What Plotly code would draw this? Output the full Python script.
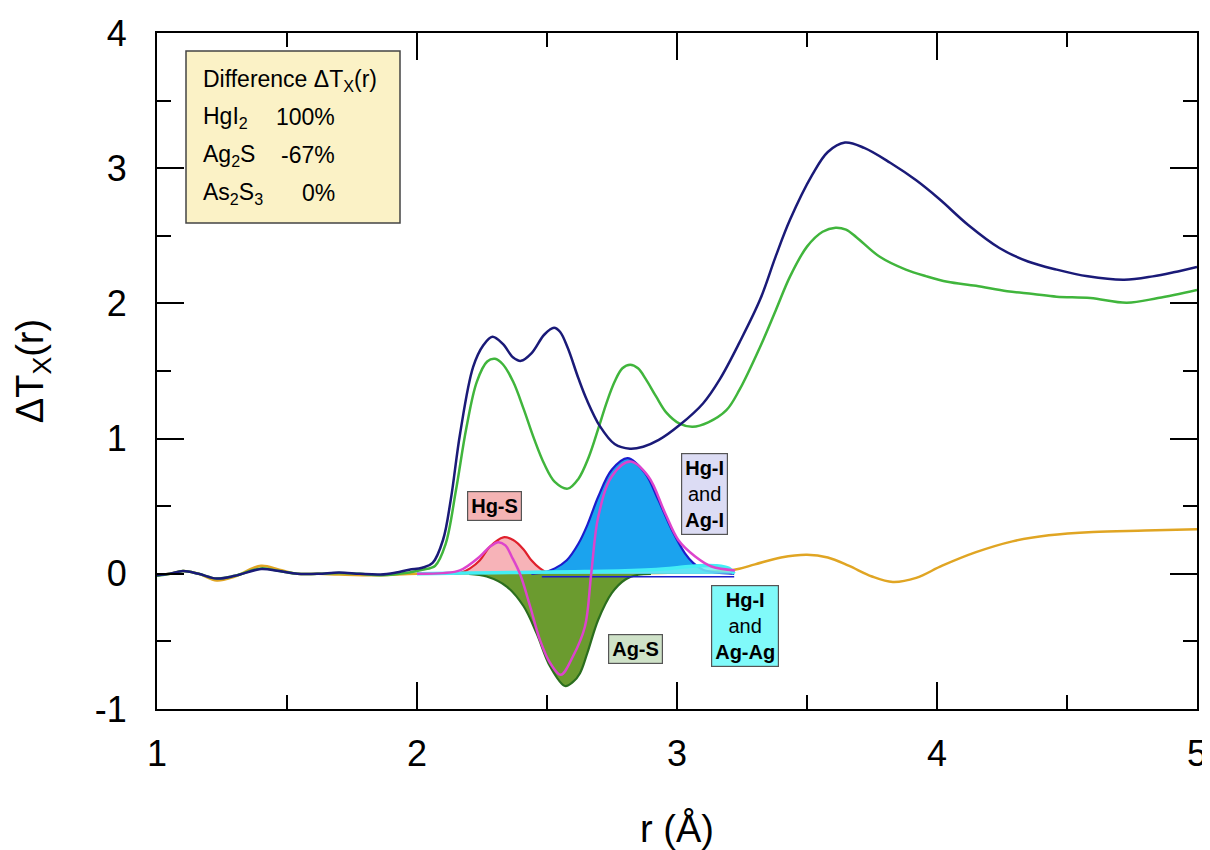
import plotly.graph_objects as go

# ---------------- data ----------------
r_navy = [1.00, 1.05, 1.10, 1.16, 1.23, 1.30, 1.40, 1.47, 1.54, 1.62, 1.70, 1.78, 1.86, 1.92, 1.97,
          2.02, 2.06, 2.10, 2.13, 2.166, 2.216, 2.255, 2.29, 2.33, 2.37, 2.40, 2.44, 2.49, 2.527,
          2.55, 2.58, 2.62, 2.653, 2.704, 2.76, 2.819, 2.87, 2.93, 3.01, 3.10, 3.165, 3.24, 3.32,
          3.38, 3.435, 3.52, 3.58, 3.646, 3.72, 3.82, 3.92, 4.01, 4.12, 4.24, 4.35, 4.46, 4.58,
          4.72, 4.83, 4.91, 5.00]
y_navy = [-0.01, 0.0, 0.02, 0.0, -0.035, -0.015, 0.035, 0.02, 0.0, 0.0, 0.01, 0.0, -0.005, 0.01, 0.03,
          0.045, 0.08, 0.25, 0.55, 1.04, 1.53, 1.69, 1.753, 1.70, 1.60, 1.575, 1.63, 1.77, 1.82,
          1.79, 1.67, 1.45, 1.287, 1.09, 0.96, 0.925, 0.94, 0.99, 1.10, 1.26, 1.44, 1.71, 2.03,
          2.35, 2.62, 2.95, 3.12, 3.19, 3.15, 3.04, 2.91, 2.77, 2.58, 2.41, 2.31, 2.25, 2.20,
          2.175, 2.20, 2.23, 2.27]

r_green = [1.00, 1.05, 1.10, 1.16, 1.23, 1.30, 1.40, 1.47, 1.54, 1.62, 1.70, 1.78, 1.86, 1.97,
           2.02, 2.07, 2.11, 2.15, 2.19, 2.23, 2.27, 2.30, 2.33, 2.37, 2.41, 2.45, 2.49, 2.53, 2.58,
           2.62, 2.66, 2.70, 2.73, 2.76, 2.79, 2.82, 2.85, 2.88, 2.92, 2.96, 3.01, 3.06, 3.12, 3.19,
           3.24, 3.32, 3.38, 3.435, 3.50, 3.56, 3.61, 3.65, 3.69, 3.78, 3.88, 3.96, 4.04, 4.15,
           4.27, 4.37, 4.46, 4.59, 4.73, 4.85, 5.00]
y_green = [-0.015, 0.0, 0.02, 0.0, -0.035, -0.015, 0.04, 0.02, 0.0, 0.0, 0.005, 0.0, -0.01, 0.01,
           0.03, 0.06, 0.22, 0.62, 1.08, 1.42, 1.57, 1.59, 1.55, 1.42, 1.22, 1.00, 0.81, 0.68, 0.63,
           0.70, 0.86, 1.09, 1.27, 1.42, 1.52, 1.546, 1.52, 1.44, 1.31, 1.19, 1.11, 1.087, 1.12, 1.21,
           1.36, 1.68, 1.95, 2.20, 2.42, 2.53, 2.56, 2.545, 2.49, 2.345, 2.25, 2.20, 2.16, 2.13,
           2.09, 2.07, 2.05, 2.04, 2.005, 2.04, 2.10]

r_orange = [1.00, 1.05, 1.10, 1.16, 1.23, 1.30, 1.40, 1.47, 1.54, 1.62, 1.70, 1.86, 2.00, 2.50,
            3.00, 3.22, 3.30, 3.40, 3.50, 3.58, 3.66, 3.75, 3.83, 3.92, 4.02, 4.15, 4.29, 4.43,
            4.60, 4.80, 5.00]
y_orange = [-0.01, 0.0, 0.02, 0.0, -0.05, -0.02, 0.06, 0.03, 0.0, 0.0, -0.005, -0.01, 0.0, 0.0,
            0.01, 0.03, 0.07, 0.12, 0.14, 0.12, 0.06, -0.02, -0.06, -0.03, 0.06, 0.16, 0.24, 0.285,
            0.31, 0.32, 0.33]

r_hgs = [2.10, 2.165, 2.204, 2.242, 2.28, 2.332, 2.37, 2.41, 2.44, 2.473, 2.50, 2.55]
y_hgs = [0.0, 0.005, 0.04, 0.10, 0.20, 0.27, 0.25, 0.18, 0.10, 0.04, 0.01, 0.0]

r_ags = [2.20, 2.268, 2.345, 2.41, 2.46, 2.512, 2.569, 2.60, 2.627, 2.655, 2.697, 2.749, 2.80,
         2.851, 2.90]
y_ags = [0.0, -0.02, -0.094, -0.24, -0.44, -0.686, -0.83, -0.80, -0.735, -0.587, -0.34, -0.143,
         -0.044, -0.007, 0.0]

r_hgi = [2.44, 2.486, 2.53, 2.576, 2.62, 2.655, 2.697, 2.749, 2.81, 2.877, 2.928, 2.98, 3.03,
         3.063, 3.10, 3.15, 3.22]
y_hgi = [0.0, 0.01, 0.04, 0.10, 0.22, 0.36, 0.57, 0.77, 0.856, 0.745, 0.547, 0.325, 0.153,
         0.079, 0.03, 0.01, 0.0]

r_agag = [2.00, 2.20, 2.40, 2.60, 2.80, 2.90, 3.00, 3.08, 3.15, 3.20, 3.22]
y_agag = [0.0, 0.005, 0.01, 0.015, 0.022, 0.03, 0.045, 0.06, 0.06, 0.04, 0.0]

r_sum = [2.00, 2.10, 2.165, 2.242, 2.28, 2.313, 2.34, 2.364, 2.396, 2.435, 2.473, 2.512, 2.553,
         2.60, 2.646, 2.67, 2.697, 2.749, 2.82, 2.89, 2.954, 3.005, 3.07, 3.133, 3.223]
y_sum = [0.0, 0.005, 0.025, 0.128, 0.20, 0.234, 0.21, 0.128, 0.0, -0.24, -0.49, -0.66, -0.747,
         -0.61, -0.39, 0.0, 0.42, 0.72, 0.83, 0.72, 0.45, 0.25, 0.128, 0.054, 0.025]

x_ticks = [1, 2, 3, 4, 5]
y_ticks = [-1, 0, 1, 2, 3, 4]

legend_lines = ["Difference \u0394T<sub>X</sub>(r)", "HgI<sub>2</sub>", "Ag<sub>2</sub>S",
                "As<sub>2</sub>S<sub>3</sub>"]
legend_values = ["", "100%", "-67%", "0%"]

# ---------------- figure ----------------
# the page body has an 8 px margin, so the figure is sized/offset to put the
# plot area at page pixels x 157..1197, y 33..709
OFF = 8
PL, PR, PT, PB = 157, 1197, 33, 709          # plot area in page pixels
W, H = 1210 - OFF, 850 - OFF
L, T = PL - OFF, PT - OFF
R, B = W + OFF - PR, H + OFF - PB
X0, X1, Y0, Y1 = 1.0, 5.0, -1.0, 4.0


def px2x(px):
    return X0 + (px - PL) / (PR - PL) * (X1 - X0)


def py2y(py):
    return Y1 - (py - PT) / (PB - PT) * (Y1 - Y0)


FONT = "Arial, Liberation Sans, sans-serif"
fig = go.Figure()

# residual curve underneath
fig.add_trace(go.Scatter(x=r_orange, y=y_orange, mode="lines",
                         line=dict(color="#e0a523", width=2.5, shape="spline"), name="residual"))
# component fills
fig.add_trace(go.Scatter(x=r_hgs, y=y_hgs, mode="lines", fill="tozeroy",
                         fillcolor="#f7b3b8", line=dict(color="#e0202c", width=2.2, shape="spline"),
                         name="Hg-S"))
fig.add_trace(go.Scatter(x=r_ags, y=y_ags, mode="lines", fill="tozeroy",
                         fillcolor="#6b9b2f", line=dict(color="#2b6e1e", width=2.2, shape="spline"),
                         name="Ag-S"))
fig.add_trace(go.Scatter(x=r_hgi, y=y_hgi, mode="lines", fill="tozeroy",
                         fillcolor="#1ba3ee", line=dict(color="#1c1ccc", width=2.2, shape="spline"),
                         name="Hg-I and Ag-I"))
fig.add_trace(go.Scatter(x=[2.48, 3.22], y=[-0.022, -0.022], mode="lines",
                         line=dict(color="#1c1ccc", width=1.5), hoverinfo="skip", name="base"))
fig.add_trace(go.Scatter(x=r_agag, y=y_agag, mode="lines", fill="tozeroy",
                         fillcolor="rgba(110,240,245,0.85)",
                         line=dict(color="#44eef5", width=3.5, shape="spline"),
                         name="Hg-I and Ag-Ag"))

# curves
fig.add_trace(go.Scatter(x=r_sum, y=y_sum, mode="lines",
                         line=dict(color="#dd44cc", width=2.5, shape="spline"), name="fit sum"))
fig.add_trace(go.Scatter(x=r_green, y=y_green, mode="lines",
                         line=dict(color="#40b53c", width=2.5, shape="spline"), name="green"))
fig.add_trace(go.Scatter(x=r_navy, y=y_navy, mode="lines",
                         line=dict(color="#1a1a78", width=2.5, shape="spline"), name="navy"))

axis_common = dict(showline=True, linecolor="black", linewidth=2, mirror="allticks",
                   ticks="inside", ticklen=27, tickwidth=2, tickcolor="black",
                   showgrid=False, zeroline=False,
                   minor=dict(ticks="inside", ticklen=14, tickwidth=2, tickcolor="black",
                              dtick=0.5, showgrid=False))

fig.update_xaxes(range=[X0, X1], tickvals=x_ticks, ticktext=[str(v) for v in x_ticks],
                 tickfont=dict(family=FONT, size=36, color="black"),
                 ticklabelstandoff=12,
                 title=dict(text="r (\u00c5)", font=dict(family=FONT, size=38, color="black"),
                            standoff=44),
                 **axis_common)
fig.update_yaxes(range=[Y0, Y1], tickvals=y_ticks, ticktext=[str(v) for v in y_ticks],
                 tickfont=dict(family=FONT, size=36, color="black"),
                 ticklabelstandoff=21,
                 title=dict(text="\u0394T<sub>X</sub>(r)", font=dict(family=FONT, size=38, color="black"),
                            standoff=39),
                 **axis_common)

shapes = [dict(type="rect", xref="x", yref="y", x0=px2x(186), x1=px2x(400), y0=py2y(223), y1=py2y(51),
               fillcolor="#fbf2c6", line=dict(color="#444444", width=1.5), layer="above")]

annotations = []
row_py = [80, 117, 155, 193]
for txt, val, py in zip(legend_lines, legend_values, row_py):
    annotations.append(dict(x=px2x(201), y=py2y(py), xref="x", yref="y", text=txt, showarrow=False,
                            xanchor="left", yanchor="middle",
                            font=dict(family=FONT, size=23, color="black")))
    if val:
        annotations.append(dict(x=px2x(337), y=py2y(py), xref="x", yref="y", text=val,
                                showarrow=False, xanchor="right", yanchor="middle",
                                font=dict(family=FONT, size=23, color="black")))

boxes = [
    ("<b>Hg-S</b>", 494.5, 505.7, "#f4b4b4"),
    ("<b>Hg-I</b><br>and<br><b>Ag-I</b>", 704.5, 494.0, "#dcdcf4"),
    ("<b>Ag-S</b>", 635.0, 649.0, "#cfe2c8"),
    ("<b>Hg-I</b><br>and<br><b>Ag-Ag</b>", 745.0, 625.7, "#80fafa"),
]
for txt, bx, by, col in boxes:
    annotations.append(dict(x=px2x(bx), y=py2y(by), xref="x", yref="y", text=txt, showarrow=False,
                            xanchor="center", yanchor="middle", align="center",
                            bgcolor=col, bordercolor="#555555", borderwidth=1.2, borderpad=3,
                            font=dict(family=FONT, size=20, color="black")))

fig.update_layout(width=W, height=H, margin=dict(l=L, r=R, t=T, b=B, autoexpand=False),
                  plot_bgcolor="white", paper_bgcolor="white", showlegend=False,
                  shapes=shapes, annotations=annotations)

fig.write_html("out.html")
